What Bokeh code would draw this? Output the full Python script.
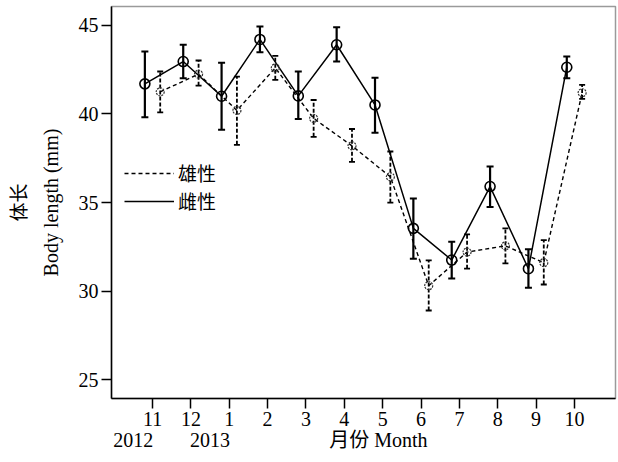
import numpy as np
from bokeh.plotting import figure
from bokeh.models import (Range1d, FixedTicker, Legend, LegendItem, ColumnDataSource, LinearAxis)
from bokeh.embed import file_html
from bokeh.resources import INLINE

# ---- data ----
month_labels = ["11", "12", "1", "2", "3", "4", "5", "6", "7", "8", "9", "10"]
year_labels = ["2012", "2013"]
x_title = "月份 Month"
y_title = "Body length (mm)"
y_title_cn = "体长"
y_ticks = [25, 30, 35, 40, 45]

female_mean = [41.70, 42.96, 41.00, 44.21, 41.02, 43.91, 40.51, 33.54, 31.75, 35.90, 31.26, 42.64]
female_upper = [43.53, 43.91, 42.90, 44.94, 42.40, 44.90, 42.04, 35.22, 32.79, 37.03, 32.36, 43.24]
female_lower = [39.81, 42.02, 39.11, 43.49, 39.72, 42.96, 38.94, 31.82, 30.71, 34.75, 30.18, 42.02]

male_mean = [41.25, 42.25, 40.20, 42.60, 39.75, 38.20, 36.45, 30.30, 32.20, 32.55, 31.60, 41.20]
male_upper = [42.40, 43.02, 42.11, 43.28, 40.79, 39.15, 37.88, 31.73, 33.20, 33.54, 32.87, 41.64]
male_lower = [40.09, 41.60, 38.26, 41.93, 38.71, 37.30, 34.99, 28.90, 31.26, 31.56, 30.37, 40.85]

SERIF = "'Liberation Serif', 'Noto Sans CJK SC'"
CJK = "'Noto Sans CJK SC'"

idx = np.arange(len(month_labels))
fx = idx - 0.2
mx = idx + 0.2

fsrc = ColumnDataSource(dict(x=fx, y=female_mean, up=female_upper, lo=female_lower))
msrc = ColumnDataSource(dict(x=mx, y=male_mean, up=male_upper, lo=male_lower))

p = figure(width=618, height=462, output_backend="svg", toolbar_location=None,
           x_range=Range1d(-1.07, 12.07), y_range=Range1d(23.93, 46.07),
           min_border_left=111, min_border_right=3, min_border_top=6, min_border_bottom=64)
p.background_fill_color = "white"
p.border_fill_color = "white"
p.outline_line_color = "#9a9a9a"
p.outline_line_width = 1.5
p.xgrid.visible = False
p.ygrid.visible = False

# main axes
p.xaxis.ticker = FixedTicker(ticks=list(idx))
p.xaxis.major_label_overrides = {int(i): lab for i, lab in zip(idx, month_labels)}
p.yaxis.ticker = FixedTicker(ticks=y_ticks)
for ax in (p.xaxis[0], p.yaxis[0]):
    ax.axis_line_color = "black"
    ax.axis_line_width = 1.5
    ax.major_tick_line_color = "black"
    ax.major_tick_line_width = 1.5
    ax.major_tick_in = 0
    ax.major_tick_out = 10
    ax.minor_tick_line_color = None
    ax.major_label_text_font = SERIF
    ax.major_label_text_font_size = "20px"
    ax.major_label_text_color = "black"
p.xaxis.major_label_standoff = 3
p.yaxis.major_label_standoff = 3
p.yaxis.axis_label = y_title
p.yaxis.axis_label_text_font = SERIF
p.yaxis.axis_label_text_font_size = "20px"
p.yaxis.axis_label_text_font_style = "normal"
p.yaxis.axis_label_text_color = "black"
p.yaxis.axis_label_standoff = 14

# second left axis: Chinese title only
ax_cn = LinearAxis(ticker=FixedTicker(ticks=[]), axis_label=y_title_cn,
                   axis_line_color=None, major_tick_line_color=None, minor_tick_line_color=None,
                   major_label_text_font_size="0px")
ax_cn.axis_label_text_font = CJK
ax_cn.axis_label_text_font_size = "19px"
ax_cn.axis_label_text_font_style = "normal"
ax_cn.axis_label_text_color = "black"
ax_cn.axis_label_standoff = 6
p.add_layout(ax_cn, "left")

# second bottom axis: years (between month ticks) and x title
year_pos = [idx[0] - 0.5, idx[1] + 0.5]
title_pos = 5.89
ax_yr = LinearAxis(ticker=FixedTicker(ticks=year_pos + [title_pos]),
                   axis_line_color=None, major_tick_line_color=None, minor_tick_line_color=None)
ax_yr.major_label_overrides = {year_pos[0]: year_labels[0], year_pos[1]: year_labels[1],
                               title_pos: x_title}
ax_yr.major_label_text_font = SERIF
ax_yr.major_label_text_font_size = "20px"
ax_yr.major_label_text_color = "black"
ax_yr.major_label_standoff = 0
ax_yr.major_tick_out = 0
ax_yr.major_tick_in = 0
p.add_layout(ax_yr, "below")

# female (solid)
p.segment(x0="x", y0="lo", x1="x", y1="up", source=fsrc, line_color="black", line_width=2.2)
p.scatter(x="x", y="up", source=fsrc, marker="dash", size=7, line_color="black", line_width=2)
p.scatter(x="x", y="lo", source=fsrc, marker="dash", size=7, line_color="black", line_width=2)
fline = p.line(x="x", y="y", source=fsrc, line_color="black", line_width=1.5)
p.scatter(x="x", y="y", source=fsrc, marker="circle", size=10, fill_color=None,
          line_color="black", line_width=1.6)

# male (dashed)
p.segment(x0="x", y0="lo", x1="x", y1="up", source=msrc, line_color="black", line_width=1.8,
          line_dash="4 2")
p.scatter(x="x", y="up", source=msrc, marker="dash", size=6, line_color="black", line_width=1.8)
p.scatter(x="x", y="lo", source=msrc, marker="dash", size=6, line_color="black", line_width=1.8)
mline = p.line(x="x", y="y", source=msrc, line_color="black", line_width=1.4, line_dash="4 3")
p.scatter(x="x", y="y", source=msrc, marker="circle", size=8, fill_color=None,
          line_color="#333333", line_width=1.2, line_dash="2 1")

legend = Legend(items=[LegendItem(label="雄性", renderers=[mline]),
                       LegendItem(label="雌性", renderers=[fline])],
                location=(13, 184), orientation="vertical")
legend.glyph_width = 50
legend.glyph_height = 20
legend.label_height = 20
legend.label_standoff = 4
legend.spacing = 1
legend.padding = 0
legend.margin = 0
legend.border_line_color = None
legend.background_fill_alpha = 0
legend.label_text_font = CJK
legend.label_text_font_size = "19px"
legend.label_text_color = "black"
p.add_layout(legend, "center")

open("out.html", "w").write(file_html(p, INLINE))
